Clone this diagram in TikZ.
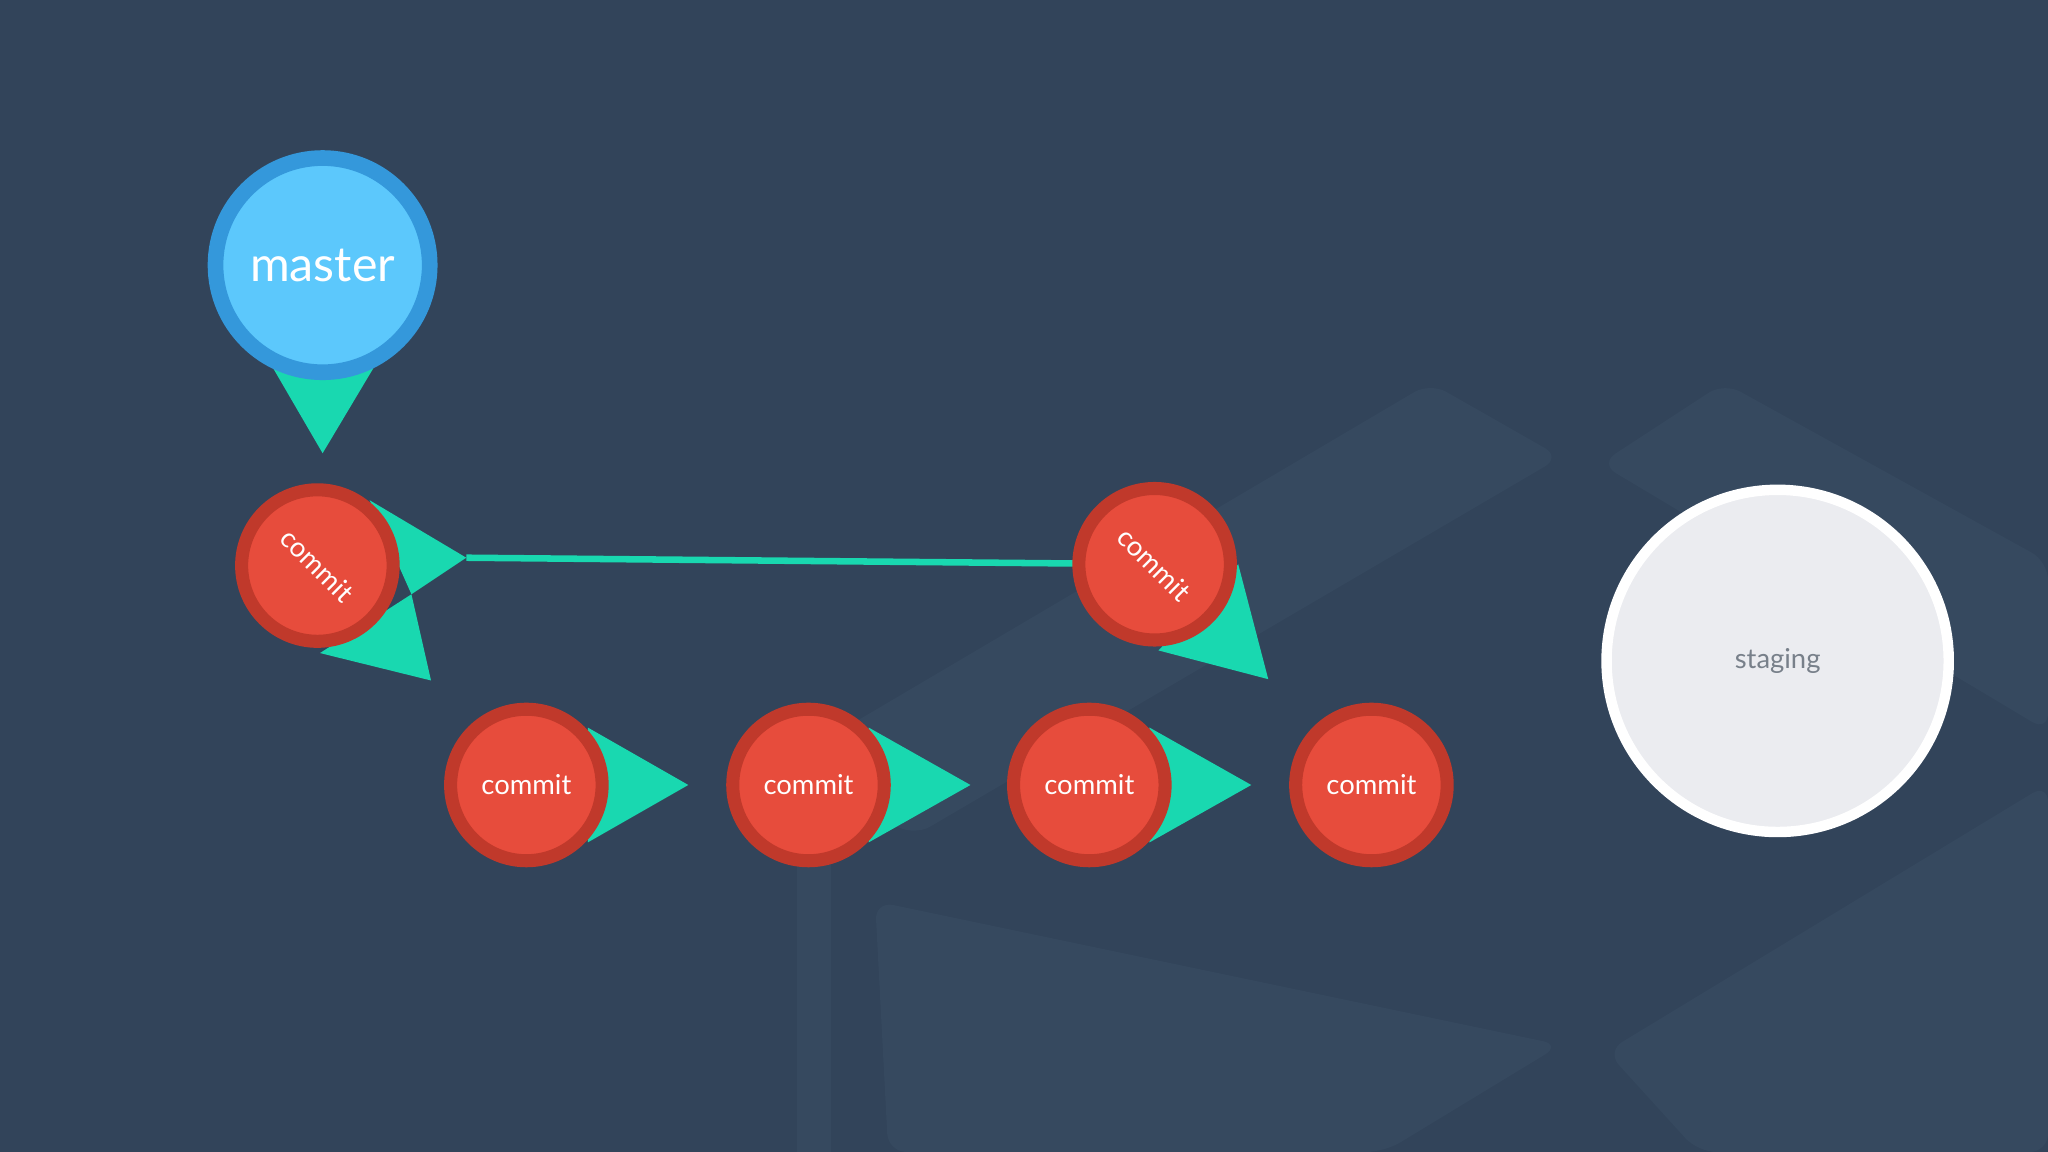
\documentclass[tikz,border=0pt]{standalone}
\usepackage{fontspec}
\setmainfont{Lato}
\begin{document}
\begin{tikzpicture}[x=1pt,y=-1pt,
  bgshape/.style={fill=slab,rounded corners=14pt},
  teal/.style={fill=tealc},
  commitn/.style={circle,draw=redb,fill=redf,line width=10pt,minimum size=116pt,inner sep=0pt,text=white,font=\fontsize{21}{24}\selectfont},
]
\definecolor{bg}{RGB}{50,68,90}
\definecolor{slab}{RGB}{54,73,95}
\definecolor{tealc}{RGB}{25,216,176}
\definecolor{redf}{RGB}{231,76,60}
\definecolor{redb}{RGB}{192,57,43}
\definecolor{blueb}{RGB}{52,152,219}
\definecolor{bluef}{RGB}{92,200,252}
\definecolor{stagf}{RGB}{235,236,240}
\definecolor{stagt}{RGB}{120,128,138}
\fill[bg] (0,0) rectangle (1568,882);
\useasboundingbox (0,0) rectangle (1568,882);
% faint background slabs
\fill[bgshape] (1095,293) -- (1195,350) -- (700,640) -- (600,585) -- cycle;
\fill[bgshape] (1320,293) -- (1568,430) -- (1568,560) -- (1225,355) -- cycle;
\fill[bgshape] (670,690) -- (1195,800) -- (1060,882) -- (680,882) -- cycle;
\fill[bgshape] (1568,600) -- (1568,882) -- (1300,882) -- (1230,805) -- cycle;
\fill[slab] (610,660) rectangle (636,882);
% anchor points
\coordinate (mt) at (247,347);
\coordinate (c2p) at (884,432);
\coordinate (lt) at (357,427);
% teal arrows (behind circles)
\fill[teal] (208,280) -- (287,280) -- (mt) -- cycle;
\draw[tealc,line width=5pt] (c2p) -- (lt);
\fill[teal] (283,383) -- (lt) -- (315,455) -- cycle;
\fill[teal] (245,500) -- (330,521) -- (315,455) -- cycle;
\fill[teal] (948,432) -- (971,520) -- (887,498) -- cycle;
\fill[teal] (450,557) -- (527,601) -- (450,645) -- cycle;
\fill[teal] (665,557) -- (743,601) -- (665,645) -- cycle;
\fill[teal] (880,557) -- (958,601) -- (880,645) -- cycle;
% nodes
\node[circle,draw=blueb,fill=bluef,line width=12pt,minimum size=164pt,inner sep=0pt,text=white,font=\fontsize{37}{40}\selectfont] (master) at (247,203) {master};
\node[commitn,rotate=-45] (c1) at (243,433) {commit};
\node[commitn,rotate=-45] (c2) at (c2p) {commit};
\node[commitn] (b1) at (403,601) {commit};
\node[commitn] (b2) at (619,601) {commit};
\node[commitn] (b3) at (834,601) {commit};
\node[commitn] (b4) at (1050,601) {commit};
\node[circle,draw=white,fill=stagf,line width=8pt,minimum size=262pt,inner sep=0pt,text=stagt,font=\fontsize{21}{24}\selectfont] (stag) at (1361,506) {\raisebox{-6pt}{staging}};
\end{tikzpicture}
\end{document}
